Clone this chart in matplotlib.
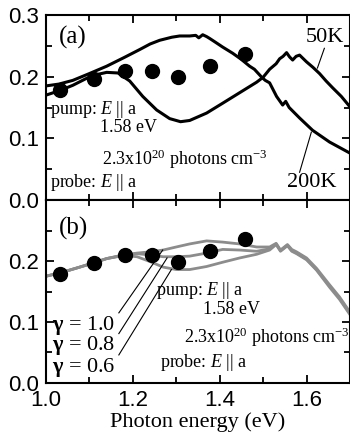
import matplotlib
matplotlib.use("Agg")
import matplotlib.pyplot as plt
from matplotlib.ticker import MultipleLocator

plt.rcParams['font.family'] = ['Liberation Serif', 'DejaVu Serif']
plt.rcParams['mathtext.fontset'] = 'custom'
plt.rcParams['mathtext.rm'] = 'Liberation Serif'
plt.rcParams['mathtext.it'] = 'Liberation Serif:italic'
plt.rcParams['mathtext.bf'] = 'Liberation Serif:bold'

## donnees lues sur la figure
# points experimentaux (memes dans (a) et (b))
e_pts = [1.033, 1.11, 1.183, 1.244, 1.305, 1.377, 1.458]
r_pts = [0.178, 0.197, 0.210, 0.210, 0.199, 0.217, 0.236]

# (a) 50K
e_50 = [0.99, 1.0, 1.03, 1.062, 1.09, 1.108, 1.14, 1.166, 1.193, 1.223, 1.255, 1.285,
        1.31, 1.331, 1.37, 1.407, 1.446, 1.485, 1.50, 1.515, 1.53, 1.538, 1.546,
        1.554, 1.561, 1.568, 1.576, 1.584, 1.60, 1.615, 1.63, 1.645, 1.66, 1.68, 1.70]
r_50 = [0.168, 0.170, 0.177, 0.186, 0.196, 0.202, 0.207, 0.206, 0.193, 0.168, 0.146, 0.132,
        0.127, 0.129, 0.141, 0.157, 0.174, 0.191, 0.199, 0.212, 0.221, 0.229, 0.233,
        0.239, 0.232, 0.227, 0.233, 0.235, 0.224, 0.215, 0.205, 0.193, 0.182, 0.168, 0.151]

# (a) 200K
e_200 = [0.99, 1.0, 1.03, 1.062, 1.10, 1.14, 1.18, 1.216, 1.24, 1.262, 1.29, 1.308, 1.331,
         1.345, 1.352, 1.361, 1.37, 1.377, 1.39, 1.407, 1.43, 1.45, 1.469, 1.48, 1.497,
         1.505, 1.515, 1.531, 1.545, 1.552, 1.56, 1.584, 1.614, 1.653, 1.70]
r_200 = [0.183, 0.185, 0.188, 0.194, 0.205, 0.217, 0.231, 0.244, 0.253, 0.259, 0.264, 0.266, 0.266,
         0.267, 0.263, 0.268, 0.265, 0.262, 0.256, 0.248, 0.238, 0.228, 0.217, 0.212, 0.199,
         0.194, 0.190, 0.168, 0.154, 0.160, 0.150, 0.133, 0.113, 0.094, 0.076]

# (b) calculs pour gamma = 1.0, 0.8, 0.6
e_calc = [0.99, 1.0, 1.04, 1.078, 1.11, 1.14, 1.18, 1.21, 1.24, 1.27, 1.30, 1.331, 1.37,
          1.407, 1.446, 1.485, 1.515, 1.53, 1.54, 1.556, 1.566, 1.577, 1.60, 1.623,
          1.653, 1.676, 1.70]
r_g10 = [0.173, 0.175, 0.182, 0.190, 0.197, 0.204, 0.210, 0.213, 0.215, 0.218, 0.223, 0.228, 0.233,
         0.231, 0.228, 0.223, 0.223, 0.229, 0.218, 0.227, 0.219, 0.215, 0.205, 0.188,
         0.161, 0.141, 0.116]
r_g08 = [0.173, 0.175, 0.182, 0.190, 0.197, 0.204, 0.210, 0.212, 0.210, 0.207, 0.207, 0.208, 0.213,
         0.219, 0.218, 0.216, 0.220, 0.228, 0.217, 0.226, 0.217, 0.213, 0.203, 0.186,
         0.159, 0.139, 0.114]
r_g06 = [0.173, 0.175, 0.182, 0.190, 0.197, 0.204, 0.209, 0.207, 0.199, 0.190, 0.186, 0.186, 0.191,
         0.198, 0.205, 0.211, 0.218, 0.227, 0.216, 0.225, 0.216, 0.212, 0.202, 0.185,
         0.157, 0.137, 0.112]

gammas = ["1.0", "0.8", "0.6"]

## figure
fig = plt.figure(figsize=(3.5, 4.44), dpi=100)
ax1 = fig.add_axes([0.131, 0.5495, 0.869, 0.4167])
ax2 = fig.add_axes([0.131, 0.1374, 0.869, 0.4121])

def reglages(ax):
    ax.set_xlim(1.0, 1.7)
    ax.set_ylim(0.0, 0.3)
    ax.xaxis.set_major_locator(MultipleLocator(0.2))
    ax.xaxis.set_minor_locator(MultipleLocator(0.1))
    ax.yaxis.set_major_locator(MultipleLocator(0.1))
    ax.yaxis.set_minor_locator(MultipleLocator(0.05))
    ax.tick_params(which='both', direction='in', top=True, right=True, width=1.3)
    ax.tick_params(which='major', length=6, pad=5, labelsize=16)
    ax.tick_params(which='minor', length=4)
    for s in ax.spines.values():
        s.set_linewidth(1.5)

# (a)
ax1.plot(e_50, r_50, color='black', lw=2.2)
ax1.plot(e_200, r_200, color='black', lw=2.2)
ax1.plot(e_pts, r_pts, 'o', color='black', ms=10)
reglages(ax1)
ax1.set_xticklabels([])
for lab in ax1.get_yticklabels():
    lab.set_family('Liberation Sans')
ax1.text(1.03, 0.263, "(a)", fontsize=18, va='center')
ax1.text(1.009, 0.146, "pump: $E$ || a", fontsize=13, va='center')
ax1.text(1.124, 0.117, "1.58 eV", fontsize=13, va='center')
ax1.text(1.129, 0.066, "2.3x10$^{20}$ photons cm$^{-3}$", fontsize=13, va='center')
ax1.text(1.009, 0.029, "probe: $E$ || a", fontsize=13, va='center')
ax1.text(1.598, 0.264, "50K", fontsize=16, va='center')
ax1.text(1.556, 0.028, "200K", fontsize=16, va='center')
ax1.plot([1.641, 1.625], [0.246, 0.214], color='black', lw=0.8)
ax1.plot([1.584, 1.611], [0.045, 0.110], color='black', lw=0.8)

# (b)
for r in [r_g10, r_g08, r_g06]:
    ax2.plot(e_calc, r, color='#8c8c8c', lw=2.0)
ax2.plot(e_pts, r_pts, 'o', color='black', ms=10)
reglages(ax2)
ax2.set_yticks([0.0, 0.1, 0.2, 0.3])
ax2.set_yticklabels(["0.0", "0.1", "0.2", ""])
ax2.set_xticks([1.0, 1.2, 1.4, 1.6])
ax2.set_xticklabels(["1.0", "1.2", "1.4", "1.6"])
for lab in ax2.get_xticklabels() + ax2.get_yticklabels():
    lab.set_family('Liberation Sans')
ax2.text(1.03, 0.254, "(b)", fontsize=18, va='center')
ax2.text(1.253, 0.151, "pump: $E$ || a", fontsize=13, va='center')
ax2.text(1.361, 0.121, "1.58 eV", fontsize=13, va='center')
ax2.text(1.318, 0.075, "2.3x10$^{20}$ photons cm$^{-3}$", fontsize=13, va='center')
ax2.text(1.262, 0.034, "probe: $E$ || a", fontsize=13, va='center')
# etiquettes gamma et traits de rappel
y_lab = [0.095, 0.061, 0.026]
y_fin = [0.218, 0.205, 0.186]
x_fin = [1.269, 1.279, 1.289]
for g, yl, yf, xf in zip(gammas, y_lab, y_fin, x_fin):
    ax2.text(1.014, yl, r"$\mathbf{γ}$ = " + g, fontsize=16, va='center')
    ax2.plot([1.168, xf], [yl + 0.02, yf], color='black', lw=0.8)
ax2.set_xlabel("Photon energy (eV)", fontsize=16, labelpad=1)

fig.savefig("out.png", dpi=100)
